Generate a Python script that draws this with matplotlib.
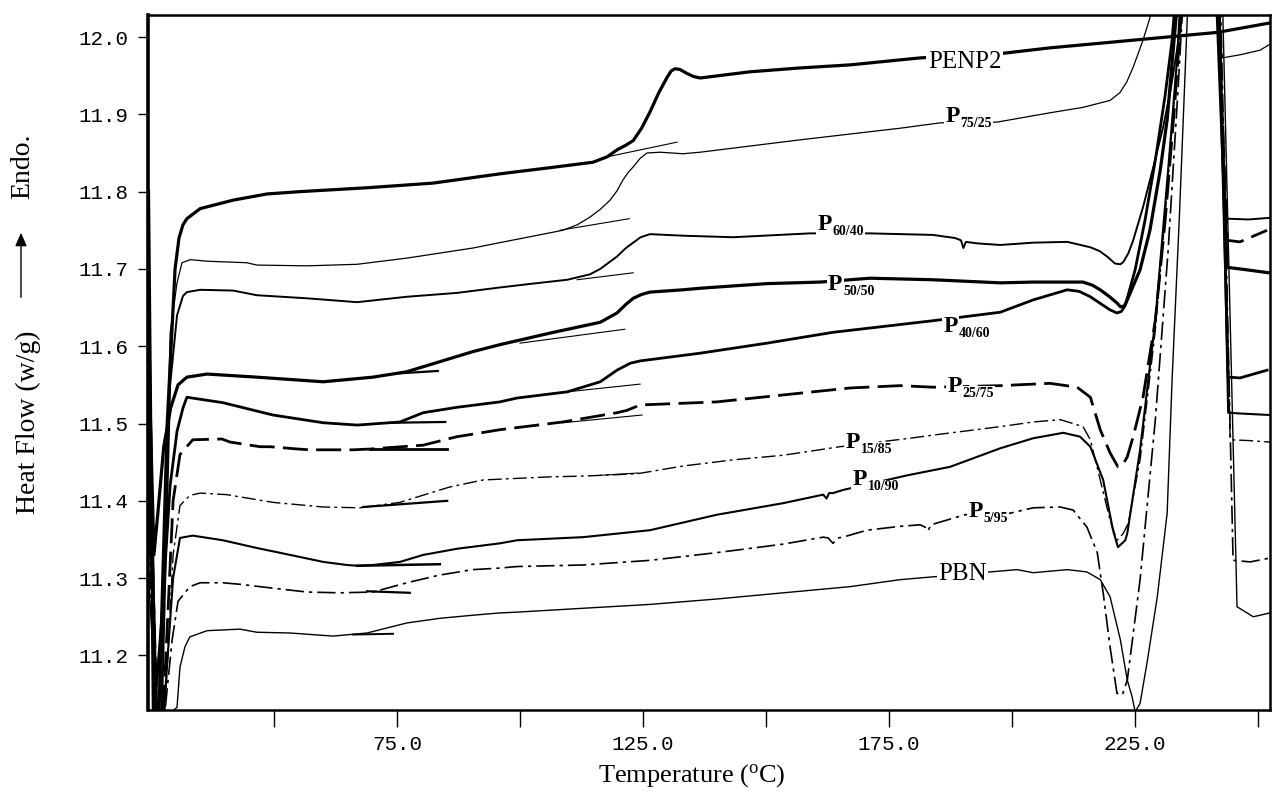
import matplotlib
matplotlib.use("Agg")
import matplotlib.pyplot as plt
from matplotlib.patches import FancyArrowPatch
from matplotlib.ticker import FixedLocator, FuncFormatter

serif = "Liberation Serif"
mono = "Liberation Mono"
plt.rcParams["mathtext.fontset"] = "custom"
plt.rcParams["mathtext.rm"] = serif
plt.rcParams["mathtext.it"] = serif + ":italic"
plt.rcParams["mathtext.bf"] = serif + ":bold"

# ---- DSC heating traces: temperature (deg C) vs heat flow (W/g) ----
penp2_t = [24.5, 25.5, 26.6, 28.3, 29.9, 30.7, 31.5, 32.3, 35.0, 41.7, 48.6, 55.3, 68.9, 82.3,
           95.9, 106.1, 114.8, 117.7, 119.7, 121.5, 123.0, 124.7, 126.4, 128.2, 129.9, 130.7,
           131.5, 132.5, 133.9, 135.2, 136.6, 146.7, 156.9, 167.1, 181.3, 198.2, 207.7, 217.9,
           231.5, 241.7, 252.2]
penp2_q = [11.800, 11.120, 11.120, 11.500, 11.700, 11.740, 11.757, 11.765, 11.778, 11.789, 11.797,
           11.800, 11.805, 11.811, 11.823, 11.831, 11.838, 11.845, 11.854, 11.860, 11.866, 11.882,
           11.903, 11.928, 11.948, 11.956, 11.959, 11.958, 11.953, 11.949, 11.947, 11.955, 11.960,
           11.964, 11.973, 11.979, 11.986, 11.992, 12.000, 12.006, 12.018]

p7525_t = [24.5, 25.8, 27.0, 28.9, 30.3, 31.3, 33.0, 36.4, 44.5, 46.5, 56.7, 66.9, 77.0, 90.4,
           95.9, 108.7, 111.6, 114.2, 116.3, 118.3, 119.7, 120.9, 122.0, 123.0, 124.4, 125.8,
           128.5, 133.1, 136.6, 156.9, 177.2, 185.4, 197.0, 207.7, 214.4, 219.9, 221.9, 223.3,
           224.6, 226.6, 228.0, 228.6, 241.3, 242.7, 246.3, 250.4, 252.2]
p7525_q = [11.720, 11.120, 11.120, 11.617, 11.682, 11.708, 11.712, 11.710, 11.708, 11.705, 11.704,
           11.706, 11.714, 11.727, 11.734, 11.750, 11.757, 11.767, 11.777, 11.789, 11.801, 11.815,
           11.825, 11.832, 11.843, 11.850, 11.851, 11.849, 11.851, 11.867, 11.882, 11.889, 11.890,
           11.902, 11.909, 11.918, 11.928, 11.942, 11.961, 11.996, 12.025, 12.060, 12.060, 11.973,
           11.977, 11.983, 11.990]

p6040_t = [24.5, 26.0, 27.2, 28.9, 30.3, 31.5, 32.3, 35.0, 41.7, 46.5, 56.7, 66.9, 77.0, 87.2,
           95.9, 102.6, 109.6, 114.2, 116.3, 118.0, 119.7, 121.5, 123.0, 124.5, 126.4, 133.1,
           143.3, 158.9, 171.1, 183.9, 188.4, 189.6, 190.1, 190.6, 193.0, 197.6, 204.3, 211.2,
           215.9, 217.8, 219.3, 220.9, 222.0, 222.6, 223.6, 224.6, 226.6, 228.7, 230.7, 232.1,
           233.5, 234.5, 234.9, 241.5, 243.3, 243.7, 248.0, 252.2]
p6040_q = [11.700, 11.120, 11.120, 11.550, 11.640, 11.665, 11.670, 11.673, 11.672, 11.666, 11.662,
           11.657, 11.664, 11.669, 11.676, 11.681, 11.686, 11.693, 11.700, 11.708, 11.716, 11.727,
           11.734, 11.741, 11.745, 11.743, 11.741, 11.746, 11.746, 11.744, 11.740, 11.737, 11.727,
           11.735, 11.733, 11.731, 11.734, 11.735, 11.728, 11.723, 11.716, 11.707, 11.706, 11.709,
           11.720, 11.737, 11.780, 11.832, 11.884, 11.928, 11.983, 12.025, 12.060, 12.060, 11.780,
           11.765, 11.764, 11.766]

p5050_t = [24.5, 25.6, 26.4, 27.6, 29.0, 30.5, 32.3, 36.4, 46.5, 60.0, 70.1, 77.0, 83.7, 90.4,
           95.9, 106.1, 116.3, 119.7, 121.5, 123.0, 124.7, 126.4, 133.1, 136.6, 143.3, 150.2,
           161.0, 171.1, 183.9, 197.6, 204.3, 214.4, 216.3, 217.9, 219.8, 221.3, 222.0, 222.8,
           223.4, 224.0, 226.0, 228.0, 230.1, 231.5, 233.1, 233.8, 241.5, 243.7, 246.3, 252.2]
p5050_q = [11.600, 11.330, 11.384, 11.470, 11.520, 11.550, 11.560, 11.564, 11.560, 11.554, 11.560,
           11.567, 11.580, 11.593, 11.602, 11.617, 11.631, 11.643, 11.654, 11.662, 11.667, 11.670,
           11.673, 11.675, 11.678, 11.681, 11.683, 11.688, 11.686, 11.682, 11.683, 11.683, 11.679,
           11.673, 11.664, 11.656, 11.651, 11.652, 11.660, 11.669, 11.699, 11.750, 11.828, 11.893,
           12.010, 12.060, 12.060, 11.702, 11.700, 11.695]

p4060_t = [24.5, 26.0, 27.2, 28.9, 30.3, 31.5, 32.3, 39.6, 49.8, 60.0, 66.9, 75.6, 80.3, 87.2,
           95.9, 99.4, 109.6, 116.3, 119.7, 122.4, 124.4, 136.6, 150.2, 163.6, 183.9, 197.6,
           204.3, 211.2, 213.6, 215.9, 218.0, 219.9, 221.3, 222.2, 223.0, 225.0, 227.0, 229.1,
           231.1, 232.5, 233.3, 241.9, 243.9, 246.3, 251.8]
p4060_q = [11.550, 11.150, 11.248, 11.420, 11.490, 11.520, 11.534, 11.527, 11.511, 11.501, 11.498,
           11.502, 11.514, 11.521, 11.528, 11.533, 11.541, 11.554, 11.569, 11.578, 11.581, 11.591,
           11.604, 11.618, 11.633, 11.644, 11.660, 11.673, 11.671, 11.664, 11.655, 11.647, 11.643,
           11.645, 11.653, 11.699, 11.763, 11.841, 11.925, 11.996, 12.060, 12.060, 11.560, 11.559,
           11.569]

p2575_t = [24.5, 26.2, 27.5, 29.5, 30.9, 33.5, 39.4, 41.1, 47.2, 49.2, 54.9, 57.3, 66.1, 69.5,
           80.3, 87.2, 89.2, 95.9, 108.7, 119.7, 121.7, 124.4, 140.0, 153.5, 167.1, 177.2, 183.9,
           197.6, 207.7, 213.2, 215.9, 217.9, 219.9, 221.5, 222.5, 223.4, 224.6, 226.6, 229.1,
           231.1, 233.1, 234.1, 234.6, 241.7, 243.7, 246.3, 251.8]
p2575_q = [11.500, 11.125, 11.125, 11.400, 11.460, 11.479, 11.480, 11.476, 11.470, 11.470, 11.467,
           11.466, 11.466, 11.467, 11.472, 11.483, 11.485, 11.492, 11.502, 11.514, 11.517, 11.524,
           11.528, 11.537, 11.546, 11.549, 11.547, 11.549, 11.552, 11.547, 11.534, 11.492, 11.462,
           11.444, 11.447, 11.457, 11.483, 11.534, 11.634, 11.763, 11.918, 12.009, 12.060, 12.060,
           11.737, 11.735, 11.750]

p1585_t = [24.5, 26.2, 27.8, 29.5, 30.9, 32.9, 35.0, 40.4, 49.8, 60.0, 67.5, 75.6, 83.7, 85.8,
           92.5, 106.1, 112.8, 123.8, 133.1, 143.3, 153.5, 165.0, 179.3, 183.9, 197.6, 204.3,
           209.8, 214.4, 215.9, 217.9, 219.9, 221.3, 222.6, 223.6, 226.0, 229.1, 231.7, 233.7,
           234.5, 242.1, 244.3, 248.0, 252.4]
p1585_q = [11.470, 11.125, 11.125, 11.330, 11.394, 11.407, 11.410, 11.408, 11.398, 11.392, 11.391,
           11.398, 11.414, 11.418, 11.427, 11.431, 11.432, 11.435, 11.445, 11.453, 11.459, 11.470,
           11.481, 11.485, 11.496, 11.502, 11.505, 11.496, 11.479, 11.427, 11.375, 11.349, 11.358,
           11.371, 11.453, 11.621, 11.815, 11.983, 12.060, 12.060, 11.479, 11.478, 11.476]

p1090_t = [24.5, 26.2, 27.6, 29.5, 30.9, 33.5, 39.6, 46.5, 53.3, 60.0, 64.8, 66.9, 70.1, 75.6,
           80.3, 87.2, 95.9, 99.4, 112.8, 126.4, 140.0, 153.5, 161.6, 162.3, 162.8, 163.6, 165.6,
           178.7, 187.4, 197.6, 204.3, 210.4, 213.8, 215.9, 218.5, 220.5, 221.5, 223.0, 223.4,
           226.0, 229.1, 231.7, 233.5, 234.3, 242.1, 243.9, 246.3, 252.4]
p1090_q = [11.400, 11.125, 11.125, 11.300, 11.352, 11.355, 11.349, 11.339, 11.330, 11.321, 11.317,
           11.316, 11.317, 11.321, 11.330, 11.338, 11.345, 11.349, 11.353, 11.362, 11.382, 11.397,
           11.408, 11.403, 11.410, 11.410, 11.414, 11.433, 11.444, 11.468, 11.481, 11.488, 11.483,
           11.470, 11.427, 11.362, 11.340, 11.349, 11.358, 11.466, 11.634, 11.828, 11.970, 12.060,
           12.060, 11.514, 11.513, 11.511]

p595_t = [24.5, 26.0, 27.8, 29.3, 30.5, 32.9, 35.0, 39.6, 43.1, 49.8, 56.7, 63.4, 70.1, 77.0,
          83.7, 90.4, 95.9, 99.4, 112.8, 126.4, 140.0, 153.5, 161.6, 162.6, 163.6, 164.6, 165.6,
          170.5, 177.2, 181.3, 182.3, 182.9, 183.5, 190.4, 199.6, 204.3, 209.8, 212.4, 215.2,
          217.3, 218.5, 219.9, 221.3, 222.4, 223.4, 226.0, 229.1, 231.7, 233.7, 234.5, 235.0,
          242.3, 244.9, 248.4, 252.4]
p595_q = [11.350, 11.125, 11.125, 11.220, 11.270, 11.289, 11.294, 11.294, 11.292, 11.287, 11.282,
          11.281, 11.282, 11.294, 11.304, 11.311, 11.313, 11.315, 11.317, 11.323, 11.333, 11.344,
          11.353, 11.352, 11.345, 11.352, 11.353, 11.362, 11.367, 11.369, 11.366, 11.361, 11.369,
          11.382, 11.384, 11.391, 11.392, 11.388, 11.366, 11.333, 11.281, 11.211, 11.151, 11.149,
          11.168, 11.298, 11.505, 11.724, 11.931, 12.022, 12.060, 12.060, 11.323, 11.321, 11.326]

pbn_t = [24.5, 26.2, 28.9, 30.3, 30.9, 31.9, 32.9, 36.4, 43.1, 46.5, 53.3, 62.0, 68.9, 77.0,
         83.7, 90.4, 95.9, 99.4, 112.8, 126.4, 140.0, 153.5, 167.1, 177.2, 201.0, 204.3, 211.2,
         215.2, 217.9, 219.9, 222.0, 223.4, 224.4, 225.0, 226.0, 227.4, 229.5, 231.5, 232.5,
         234.0, 235.6, 236.0, 242.7, 245.7, 249.0, 252.4]
pbn_q = [11.300, 11.125, 11.125, 11.133, 11.185, 11.211, 11.224, 11.232, 11.234, 11.230, 11.229,
         11.225, 11.229, 11.242, 11.248, 11.252, 11.255, 11.256, 11.261, 11.266, 11.273, 11.281,
         11.289, 11.298, 11.311, 11.307, 11.311, 11.308, 11.298, 11.276, 11.220, 11.168, 11.146,
         11.127, 11.138, 11.190, 11.276, 11.384, 11.556, 11.770, 12.026, 12.060, 12.060, 11.263,
         11.250, 11.255]

# glass-transition baseline extrapolations: (T1, T2, q1, q2)
tangent_t1 = [117.7, 108.1, 111.6, 100.0, 75.6, 109.6, 73.6, 108.7, 69.5, 116.3, 68.1, 66.9, 68.9, 66.1]
tangent_t2 = [131.9, 122.2, 123.0, 121.3, 83.3, 124.4, 84.8, 124.8, 85.2, 124.0, 85.2, 83.7, 77.6, 74.2]
tangent_q1 = [11.845, 11.750, 11.686, 11.604, 11.565, 11.541, 11.501, 11.501, 11.467, 11.433, 11.392, 11.316, 11.283, 11.227]
tangent_q2 = [11.864, 11.765, 11.695, 11.622, 11.568, 11.551, 11.502, 11.511, 11.467, 11.436, 11.400, 11.318, 11.281, 11.228]
tangent_lw = [0.8, 0.8, 0.8, 0.8, 1.6, 0.8, 1.6, 0.8, 2.0, 0.8, 1.6, 1.8, 1.6, 1.4]

x_ticks = [50, 75, 100, 125, 150, 175, 200, 225, 250]
x_labelled = [75, 125, 175, 225]
y_ticks = [11.2, 11.3, 11.4, 11.5, 11.6, 11.7, 11.8, 11.9, 12.0]

fig = plt.figure(figsize=(12.74, 7.96), dpi=100)
ax = fig.add_axes([148 / 1274, 1 - 710 / 796, (1270 - 148) / 1274, (710 - 15) / 796])

traces = [
    (penp2_t, penp2_q, dict(lw=2.3, ls="-")),
    (p7525_t, p7525_q, dict(lw=0.9, ls="-")),
    (p6040_t, p6040_q, dict(lw=1.4, ls="-")),
    (p5050_t, p5050_q, dict(lw=2.3, ls="-")),
    (p4060_t, p4060_q, dict(lw=2.0, ls="-")),
    (p2575_t, p2575_q, dict(lw=2.0, ls=(0, (9, 3)))),
    (p1585_t, p1585_q, dict(lw=1.0, ls=(0, (10, 3, 2, 3)))),
    (p1090_t, p1090_q, dict(lw=1.5, ls="-")),
    (p595_t, p595_q, dict(lw=1.2, ls=(0, (11, 3, 2, 3)))),
    (pbn_t, pbn_q, dict(lw=1.0, ls="-")),
]
for t, q, st in traces:
    ax.plot(t, q, color="black", solid_joinstyle="round", dash_joinstyle="round", **st)

for t1, t2, q1, q2, lw in zip(tangent_t1, tangent_t2, tangent_q1, tangent_q2, tangent_lw):
    ax.plot([t1, t2], [q1, q2], color="black", lw=lw)

box = dict(facecolor="white", edgecolor="none", pad=1.0)

# plain sample names
ax.text(182.9, 11.960, "PENP2", family=serif, fontsize=18, ha="left", va="baseline", bbox=box)
ax.text(185.0, 11.298, "PBN", family=serif, fontsize=18, ha="left", va="baseline", bbox=box)

# blend names: bold P with composition subscript
blend_names = ["75/25", "60/40", "50/50", "40/60", "25/75", "15/85", "10/90", "5/95"]
blend_t = [186.4, 160.4, 162.6, 186.0, 186.8, 166.1, 167.5, 191.1]
blend_q = [11.890, 11.750, 11.673, 11.618, 11.541, 11.468, 11.420, 11.379]
for name, t, q in zip(blend_names, blend_t, blend_q):
    ax.text(t, q, "P", family=serif, fontweight="bold", fontsize=17, ha="left", va="baseline",
            bbox=box)
    ax.annotate(name, xy=(t, q), xytext=(11.0, -3.5), textcoords="offset points",
                family=serif, fontweight="bold", fontsize=10, ha="left", va="baseline",
                bbox=dict(facecolor="white", edgecolor="none", pad=0.5))

ax.set_xlim(24.4, 252.4)
ax.set_ylim(11.1294, 12.0285)

ax.xaxis.set_major_locator(FixedLocator(x_ticks))
ax.xaxis.set_major_formatter(FuncFormatter(lambda v, p: f"{v:.1f}" if v in x_labelled else ""))
ax.yaxis.set_major_locator(FixedLocator(y_ticks))
ax.yaxis.set_major_formatter(FuncFormatter(lambda v, p: f"{v:.1f}"))
ax.tick_params(axis="x", direction="out", length=12, width=1.0, pad=6, labelsize=15)
ax.tick_params(axis="y", direction="out", length=7, width=1.0, pad=7, labelsize=15)
for lab in ax.get_xticklabels() + ax.get_yticklabels():
    lab.set_family(mono)

for sp in ax.spines.values():
    sp.set_linewidth(1.8)
ax.spines["left"].set_linewidth(2.6)

fig.text(692 / 1274, 1 - 776 / 796, "Temperature ($^{\\rm o}$C)", family=serif, fontsize=19,
         ha="center", va="center")

# vertical axis caption with endotherm arrow
fig.text(28 / 1274, 1 - 422 / 796, "Heat Flow (w/g)", family=serif, fontsize=20, rotation=90,
         ha="center", va="center")
fig.text(23 / 1274, 1 - 166 / 796, "Endo.", family=serif, fontsize=20, rotation=90,
         ha="center", va="center")
fig.add_artist(FancyArrowPatch(
    (21 / 1274, 1 - 300 / 796), (21 / 1274, 1 - 230 / 796), transform=fig.transFigure,
    arrowstyle="-|>,head_length=8,head_width=3.5", color="black", lw=1.0))

fig.savefig("out.png", dpi=100, facecolor="white")
